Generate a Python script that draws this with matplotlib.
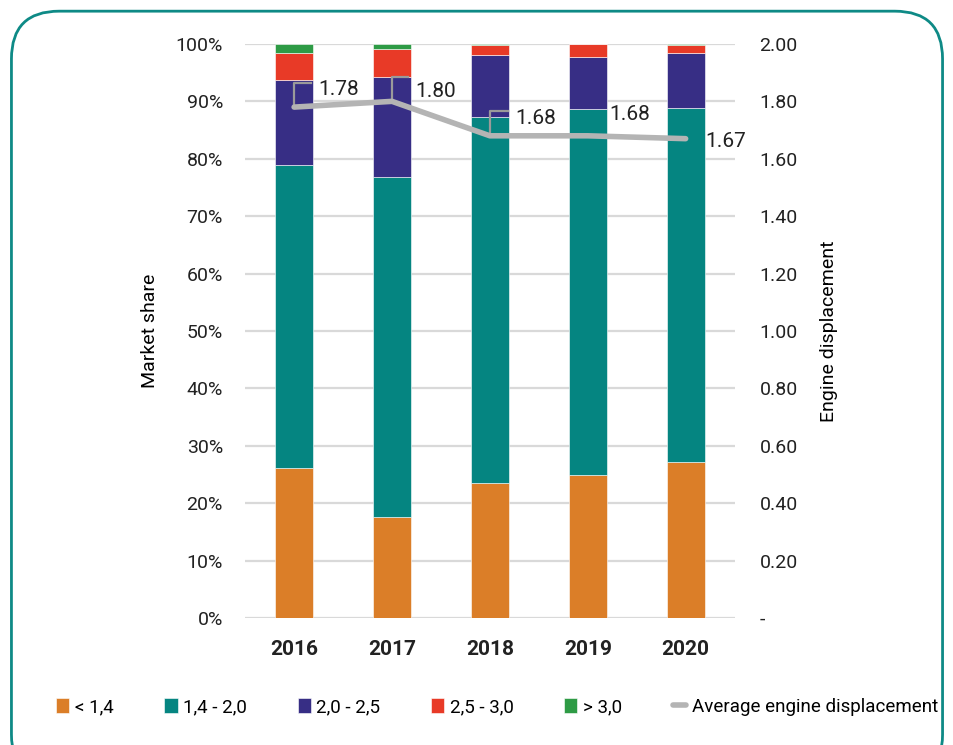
import matplotlib.pyplot as plt
import numpy as np
from matplotlib.patches import FancyBboxPatch
from matplotlib.ticker import FixedLocator

years = ["2016", "2017", "2018", "2019", "2020"]
classes = ["< 1,4", "1,4 - 2,0", "2,0 - 2,5", "2,5 - 3,0", "> 3,0"]
colors = ["#DB7E28", "#058581", "#372E85", "#E83A27", "#2E9B45"]

# market share per engine class, %
share_lt14 = [26.1, 17.6, 23.5, 24.9, 27.2]
share_14_20 = [52.8, 59.2, 63.8, 63.7, 61.7]
share_20_25 = [14.8, 17.5, 10.7, 9.2, 9.6]
share_25_30 = [4.7, 4.8, 1.8, 2.2, 1.3]
share_gt30 = [1.6, 0.9, 0.2, 0.0, 0.2]

avg_disp = [1.78, 1.80, 1.68, 1.68, 1.67]

plt.rcParams['font.family'] = ['Roboto', 'DejaVu Sans']

fig = plt.figure(figsize=(9.54, 7.45), dpi=100)
ax = fig.add_axes([0.257, 0.1705, 0.513, 0.7705])
ax2 = ax.twinx()

x = np.arange(len(years))
bottom = np.zeros(len(years))
series = [share_lt14, share_14_20, share_20_25, share_25_30, share_gt30]
handles = []
for vals, col, lab in zip(series, colors, classes):
    b = ax.bar(x, vals, 0.39, bottom=bottom, color=col, label=lab,
               edgecolor='white', linewidth=0.4, zorder=2)
    handles.append(b)
    bottom += np.array(vals)

ax.set_xlim(-0.5, 4.5)
ax.set_ylim(0, 100)
ax.set_yticks(range(0, 101, 10))
ax.set_yticklabels([f"{v}%" for v in range(0, 101, 10)])
ax.set_xticks(x)
ax.set_xticklabels(years, fontweight='bold')
ax.yaxis.grid(True, color='#D9D9D9', linewidth=1.6, zorder=0)
ax.set_axisbelow(True)
for s in ax.spines.values():
    s.set_visible(False)
for s in ax2.spines.values():
    s.set_visible(False)
ax.tick_params(length=0, labelsize=14, colors='#222222')
ax.tick_params(axis='x', pad=16, labelsize=15)
ax.tick_params(axis='y', pad=16)
ax.set_ylabel("Market share", fontsize=14, labelpad=12)

line, = ax2.plot(x, avg_disp, color='#B4B4B4', linewidth=4, zorder=3,
                 label="Average engine displacement", solid_capstyle='round')
ax2.set_ylim(0, 2.0)
ax2.yaxis.set_major_locator(FixedLocator(np.arange(0, 2.01, 0.2)))
ax2.set_yticklabels(["-"] + [f"{v:.2f}" for v in np.arange(0.2, 2.01, 0.2)])
ax2.tick_params(length=0, labelsize=14, colors='#222222', pad=18)
ax2.set_ylabel("Engine displacement", fontsize=14, labelpad=16)

# value labels: first three hang off a bent leader line
lbl_dx = [0.245, 0.235, 0.255, 0.22, 0.2]
lbl_dy = [0.06, 0.036, 0.062, 0.073, -0.01]
leader = [True, True, True, False, False]
for xi, v, dx, dy, lead in zip(x, avg_disp, lbl_dx, lbl_dy, leader):
    if lead:
        top = v + 0.085
        ax2.plot([xi, xi, xi + dx - 0.07], [v, top, top], color='#9A9A9A',
                 lw=1.6, zorder=2.5)
    ax2.text(xi + dx, v + dy, f"{v:.2f}", fontsize=15, va='center',
             ha='left', color='#222222', zorder=4)

ax.set_zorder(ax2.get_zorder() - 1)
ax2.patch.set_visible(False)
ax.patch.set_visible(True)

fig.legend(handles + [line], classes + ["Average engine displacement"],
           loc='center', bbox_to_anchor=(0.521, 0.051), ncol=6, frameon=False,
           fontsize=13.5, handlelength=0.7, handleheight=0.9, columnspacing=2.7,
           handletextpad=0.3)

border = FancyBboxPatch((0.012, -0.05), 0.976, 1.035,
                        boxstyle="round,pad=0,rounding_size=0.05",
                        transform=fig.transFigure, facecolor='none',
                        edgecolor='#0E8A86', linewidth=2, mutation_aspect=954 / 745)
fig.patches.append(border)

fig.savefig("out.png", dpi=100)
